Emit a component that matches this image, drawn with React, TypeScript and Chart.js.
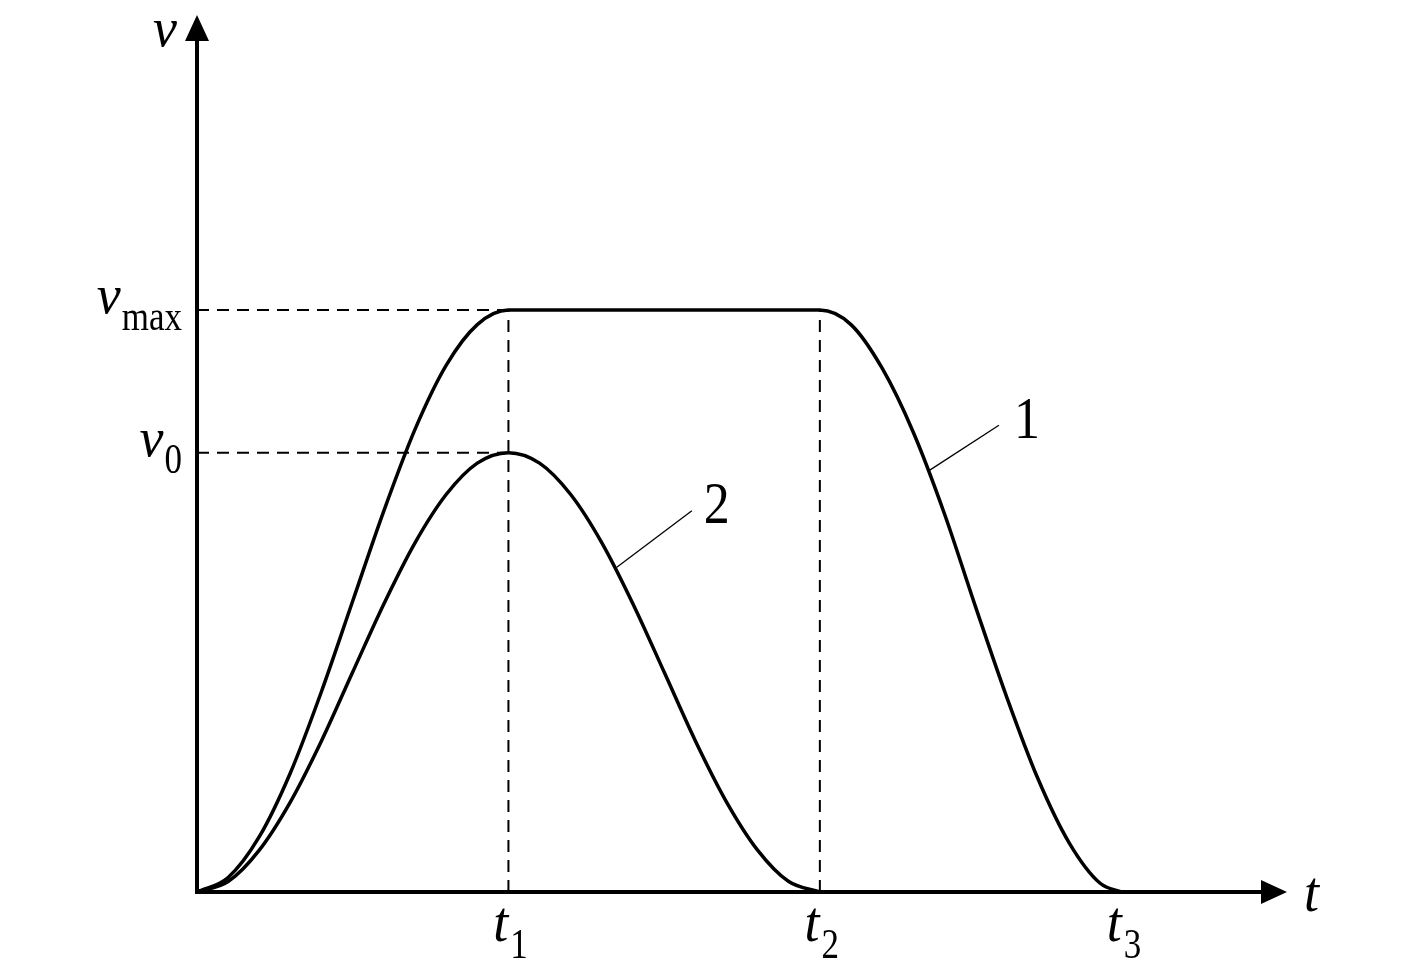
import React, { useEffect, useRef } from "react";
import { Chart, registerables } from "chart.js";

Chart.register(...registerables);

// ---- data (t in units of t1, v in units of vmax) ----
const CURVE1_T = [0, 0.1, 0.2, 0.3, 0.4, 0.5, 0.6, 0.7, 0.8, 0.9, 1.0, 1.5, 2.0, 2.1, 2.2, 2.3, 2.4, 2.5, 2.6, 2.7, 2.8, 2.9, 2.97];
const CURVE1_V = [0, 0.025, 0.095, 0.205, 0.345, 0.5, 0.655, 0.795, 0.905, 0.975, 1.0, 1.0, 1.0, 0.975, 0.9, 0.79, 0.65, 0.49, 0.335, 0.195, 0.085, 0.015, 0];

const CURVE2_T = [0, 0.1, 0.2, 0.3, 0.4, 0.5, 0.6, 0.7, 0.8, 0.9, 1.0, 1.1, 1.2, 1.3, 1.4, 1.5, 1.6, 1.7, 1.8, 1.9, 2.0];
const CURVE2_V = [0, 0.018, 0.072, 0.155, 0.26, 0.378, 0.495, 0.6, 0.683, 0.737, 0.755, 0.737, 0.683, 0.6, 0.495, 0.378, 0.26, 0.155, 0.072, 0.018, 0];

const T_TICKS = [1, 2, 2.97];
const T_TICK_SUBS = ["1", "2", "3"];
const V_TICKS = [1, 0.755];
const V_TICK_SUBS = ["max", "0"];
const DASHED_T = [1, 2]; // vertical guides up to vmax

const CURVE_LABELS = ["1", "2"];
const LEADER_FROM = [[2.353, 0.725], [1.348, 0.558]];
const LEADER_TO = [[2.575, 0.802], [1.589, 0.655]];
const LABEL_POS = [[2.665, 0.806], [1.669, 0.66]];

const T_MAX = 3.5;
const V_MAX = 1.507;

const SERIF = '"Liberation Serif", "Times New Roman", serif';

function pts(ts: number[], vs: number[]) {
  return ts.map((t, i) => ({ x: t, y: vs[i] }));
}

function drawText(
  ctx: CanvasRenderingContext2D,
  text: string,
  x: number,
  y: number,
  font: string,
  align: CanvasTextAlign,
  baseline: CanvasTextBaseline,
  sy = 1
) {
  ctx.save();
  ctx.font = font;
  ctx.textAlign = align;
  ctx.textBaseline = baseline;
  ctx.fillStyle = "#000";
  ctx.translate(x, y);
  ctx.scale(1, sy);
  ctx.fillText(text, 0, 0);
  ctx.restore();
}

const MAIN_FONT = `italic 54px ${SERIF}`;
const SUB_FONT = `35px ${SERIF}`;
const NUM_FONT = `52px ${SERIF}`;

const overlayPlugin = {
  id: "overlay",
  afterDatasetsDraw(chart: any) {
    const ctx: CanvasRenderingContext2D = chart.ctx;
    const xs = chart.scales.x;
    const ys = chart.scales.y;
    const X = (t: number) => xs.getPixelForValue(t);
    const Y = (v: number) => ys.getPixelForValue(v);
    const ox = X(0);
    const oy = Y(0);

    ctx.save();
    ctx.strokeStyle = "#000";
    ctx.fillStyle = "#000";
    ctx.lineWidth = 4;
    ctx.setLineDash([]);
    // x axis
    const xt = X(T_MAX);
    ctx.beginPath();
    ctx.moveTo(ox - 2, oy);
    ctx.lineTo(xt - 20, oy);
    ctx.stroke();
    ctx.beginPath();
    ctx.moveTo(xt, oy);
    ctx.lineTo(xt - 26, oy - 12);
    ctx.lineTo(xt - 26, oy + 12);
    ctx.closePath();
    ctx.fill();
    // y axis
    const yt = Y(V_MAX);
    ctx.beginPath();
    ctx.moveTo(ox, oy + 2);
    ctx.lineTo(ox, yt + 20);
    ctx.stroke();
    ctx.beginPath();
    ctx.moveTo(ox, yt);
    ctx.lineTo(ox - 12, yt + 26);
    ctx.lineTo(ox + 12, yt + 26);
    ctx.closePath();
    ctx.fill();

    // leader lines
    ctx.lineWidth = 1.3;
    for (let i = 0; i < LEADER_FROM.length; i++) {
      ctx.beginPath();
      ctx.moveTo(X(LEADER_FROM[i][0]), Y(LEADER_FROM[i][1]));
      ctx.lineTo(X(LEADER_TO[i][0]), Y(LEADER_TO[i][1]));
      ctx.stroke();
    }
    ctx.restore();

    // curve labels
    for (let i = 0; i < CURVE_LABELS.length; i++) {
      drawText(ctx, CURVE_LABELS[i], X(LABEL_POS[i][0]), Y(LABEL_POS[i][1]), NUM_FONT, "center", "middle", 1.12);
    }

    // axis names
    drawText(ctx, "v", ox - 20, Y(V_MAX) + 31, MAIN_FONT, "right", "alphabetic", 1.0);
    drawText(ctx, "t", xt + 17, oy + 19, MAIN_FONT, "left", "alphabetic", 1.05);

    // t ticks
    for (let i = 0; i < T_TICKS.length; i++) {
      ctx.save();
      ctx.font = MAIN_FONT;
      const wm = ctx.measureText("t").width;
      ctx.font = SUB_FONT;
      const ws = ctx.measureText(T_TICK_SUBS[i]).width;
      ctx.restore();
      const total = wm + 2 + ws;
      const left = X(T_TICKS[i]) - total / 2 + 2;
      drawText(ctx, "t", left, oy + 49, MAIN_FONT, "left", "alphabetic", 1.05);
      drawText(ctx, T_TICK_SUBS[i], left + wm + 2, oy + 66, SUB_FONT, "left", "alphabetic", 1.22);
    }

    // v ticks
    for (let i = 0; i < V_TICKS.length; i++) {
      ctx.save();
      ctx.font = SUB_FONT;
      const ws = ctx.measureText(V_TICK_SUBS[i]).width;
      ctx.restore();
      const right = ox - 15;
      const y = Y(V_TICKS[i]);
      drawText(ctx, V_TICK_SUBS[i], right, y + 20, SUB_FONT, "right", "alphabetic", 1.22);
      drawText(ctx, "v", right - ws - 1, y + 3, MAIN_FONT, "right", "alphabetic", 1.0);
    }
  },
};

export default function App() {
  const ref = useRef<HTMLCanvasElement | null>(null);

  useEffect(() => {
    document.body.style.margin = "0";
    const canvas = ref.current;
    if (!canvas) return;

    const dashed = {
      borderColor: "#000",
      borderWidth: 2,
      borderDash: [12, 8],
      pointRadius: 0,
      fill: false,
      tension: 0,
      clip: false as any,
    };

    const datasets: any[] = [];
    V_TICKS.forEach((v) => {
      datasets.push({ ...dashed, data: [{ x: 0, y: v }, { x: T_TICKS[0], y: v }] });
    });
    DASHED_T.forEach((t) => {
      datasets.push({ ...dashed, data: [{ x: t, y: 0 }, { x: t, y: V_TICKS[0] }] });
    });
    datasets.push({
      data: pts(CURVE1_T, CURVE1_V),
      borderColor: "#000",
      borderWidth: 3.5,
      pointRadius: 0,
      fill: false,
      cubicInterpolationMode: "monotone",
      clip: false,
    });
    datasets.push({
      data: pts(CURVE2_T, CURVE2_V),
      borderColor: "#000",
      borderWidth: 3.5,
      pointRadius: 0,
      fill: false,
      cubicInterpolationMode: "monotone",
      clip: false,
    });

    const chart = new Chart(canvas, {
      type: "line",
      data: { datasets },
      options: {
        animation: false,
        responsive: false,
        maintainAspectRatio: false,
        layout: { padding: { left: 197, right: 130, top: 15, bottom: 80 } },
        plugins: { legend: { display: false }, tooltip: { enabled: false } },
        events: [],
        scales: {
          x: { type: "linear", min: 0, max: T_MAX, display: false },
          y: { type: "linear", min: 0, max: V_MAX, display: false },
        },
      },
      plugins: [overlayPlugin],
    });
    return () => chart.destroy();
  }, []);

  return (
    <div style={{ position: "absolute", left: 0, top: 0, width: 1417, height: 972, background: "#fff" }}>
      <canvas ref={ref} width={1417} height={972} style={{ display: "block" }} />
    </div>
  );
}
